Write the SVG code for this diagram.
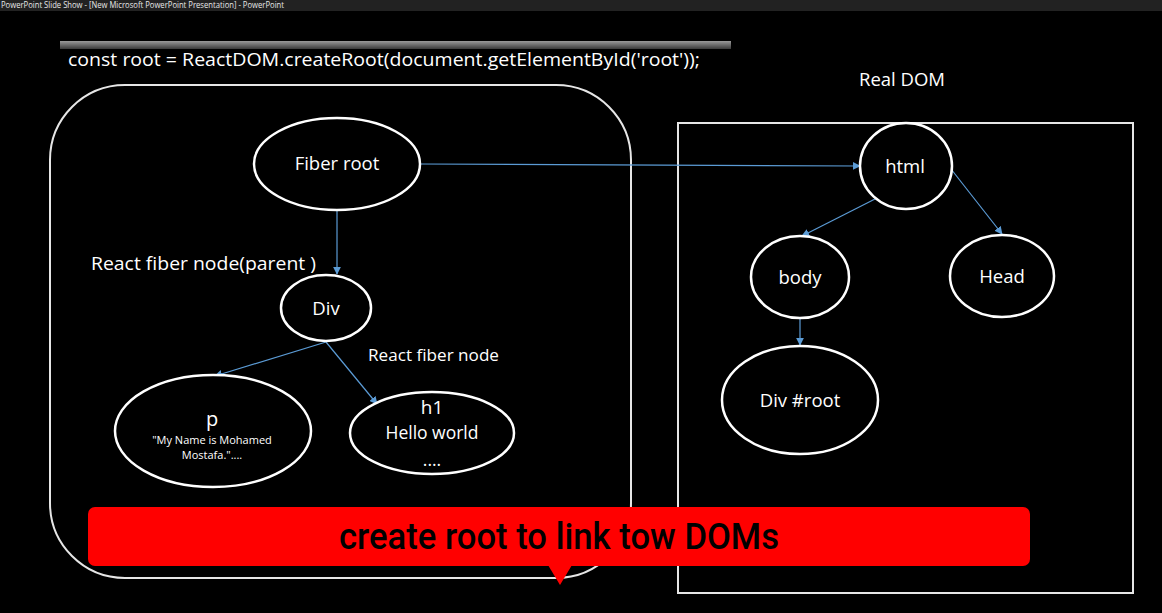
<svg xmlns="http://www.w3.org/2000/svg" width="1162" height="613" viewBox="0 0 1162 613">
  <defs>
    <style>
      .node { fill: #000; stroke: #fff; stroke-width: 2.5; }
      .lbl { fill: #fff; font-family: "Open Sans", "Liberation Sans", sans-serif; text-anchor: middle; }
      .edge { stroke: #5b9bd5; stroke-width: 1.2; fill: none; marker-end: url(#arrow); }
      .frame { fill: none; stroke: #e6e6e6; stroke-width: 2; }
    </style>
    <marker id="arrow" viewBox="0 0 10 10" refX="9" refY="5" markerWidth="8" markerHeight="8" markerUnits="userSpaceOnUse" orient="auto">
      <path d="M0,0 L10,5 L0,10 z" fill="#5b9bd5"/>
    </marker>
    <linearGradient id="barGrad" x1="0" y1="0" x2="0" y2="1">
      <stop offset="0" stop-color="#9a9a9a"/>
      <stop offset="1" stop-color="#3a3a3a"/>
    </linearGradient>
  </defs>

  <!-- background -->
  <rect width="1162" height="613" fill="#000"/>

  <!-- window title bar -->
  <rect x="0" y="0" width="1162" height="11" fill="#222"/>
  <text x="1" y="8" fill="#e8e8e8" font-family="'Open Sans', 'Liberation Sans', sans-serif" font-size="8.3" textLength="283" lengthAdjust="spacingAndGlyphs">PowerPoint Slide Show - [New Microsoft PowerPoint Presentation] - PowerPoint</text>

  <!-- code line -->
  <rect x="60" y="41" width="671" height="8" fill="url(#barGrad)"/>
  <text x="68" y="66" fill="#fff" font-family="'Open Sans', 'Liberation Sans', sans-serif" font-size="19" textLength="632" lengthAdjust="spacingAndGlyphs">const root = ReactDOM.createRoot(document.getElementById('root'));</text>

  <!-- containers -->
  <rect class="frame" x="50" y="85" width="581" height="493" rx="75" ry="75"/>
  <rect class="frame" x="678" y="123" width="455" height="470"/>
  <text class="lbl" x="902" y="86" font-size="18.5">Real DOM</text>

  <!-- side labels -->
  <text x="91" y="270" fill="#fff" font-family="'Open Sans', 'Liberation Sans', sans-serif" font-size="17.5" textLength="225" lengthAdjust="spacingAndGlyphs">React fiber node(parent )</text>
  <text x="368" y="361" fill="#fff" font-family="'Open Sans', 'Liberation Sans', sans-serif" font-size="15.5" textLength="131" lengthAdjust="spacingAndGlyphs">React fiber node</text>

  <!-- connectors -->
  <g id="connectors">
    <line class="edge" x1="420" y1="164" x2="860" y2="166"/>
    <line class="edge" x1="337" y1="210" x2="337" y2="274"/>
    <line class="edge" x1="326" y1="342" x2="215" y2="376"/>
    <line class="edge" x1="326" y1="342" x2="377" y2="404"/>
    <line class="edge" x1="877" y1="198" x2="802" y2="236"/>
    <line class="edge" x1="951" y1="169" x2="1002" y2="234"/>
    <line class="edge" x1="800" y1="318" x2="800" y2="345"/>
  </g>

  <!-- fiber tree -->
  <g id="fiber-root">
    <ellipse class="node" cx="337" cy="164" rx="83" ry="46"/>
    <text class="lbl" x="337" y="170" font-size="18.5">Fiber root</text>
  </g>
  <g id="fiber-div">
    <ellipse class="node" cx="326" cy="308" rx="45" ry="33"/>
    <text class="lbl" x="326" y="315" font-size="18.5">Div</text>
  </g>
  <g id="fiber-p">
    <ellipse class="node" cx="213" cy="431" rx="98" ry="56"/>
    <text class="lbl" x="212" y="426" font-size="20">p</text>
    <text class="lbl" x="212" y="444" font-size="11">"My Name is Mohamed</text>
    <text class="lbl" x="212" y="459" font-size="11">Mostafa."....</text>
  </g>
  <g id="fiber-h1">
    <ellipse class="node" cx="432" cy="433" rx="82" ry="41"/>
    <text class="lbl" x="432" y="414" font-size="19">h1</text>
    <text class="lbl" x="432" y="439" font-size="17.5">Hello world</text>
    <text class="lbl" x="432" y="466" font-size="17.5">....</text>
  </g>

  <!-- real DOM tree -->
  <g id="dom-html">
    <ellipse class="node" cx="906" cy="166" rx="46" ry="43"/>
    <text class="lbl" x="905" y="173" font-size="18.5">html</text>
  </g>
  <g id="dom-body">
    <ellipse class="node" cx="800" cy="277" rx="49" ry="41"/>
    <text class="lbl" x="800" y="284" font-size="18.5">body</text>
  </g>
  <g id="dom-head">
    <ellipse class="node" cx="1002" cy="276" rx="52" ry="41"/>
    <text class="lbl" x="1002" y="283" font-size="18.5">Head</text>
  </g>
  <g id="dom-div-root">
    <ellipse class="node" cx="800" cy="400" rx="78" ry="54"/>
    <text class="lbl" x="800" y="407" font-size="18.5">Div #root</text>
  </g>

  <!-- caption banner -->
  <g id="banner">
    <rect x="88" y="507" width="942" height="59" rx="7" ry="7" fill="#ff0000"/>
    <path d="M548,565 L572,565 L560,585 z" fill="#ff0000"/>
    <text x="559" y="549" fill="#000" font-family="Roboto, 'Liberation Sans', sans-serif" font-size="37" font-weight="500" text-anchor="middle" textLength="440" lengthAdjust="spacingAndGlyphs">create root to link tow DOMs</text>
  </g>
</svg>
